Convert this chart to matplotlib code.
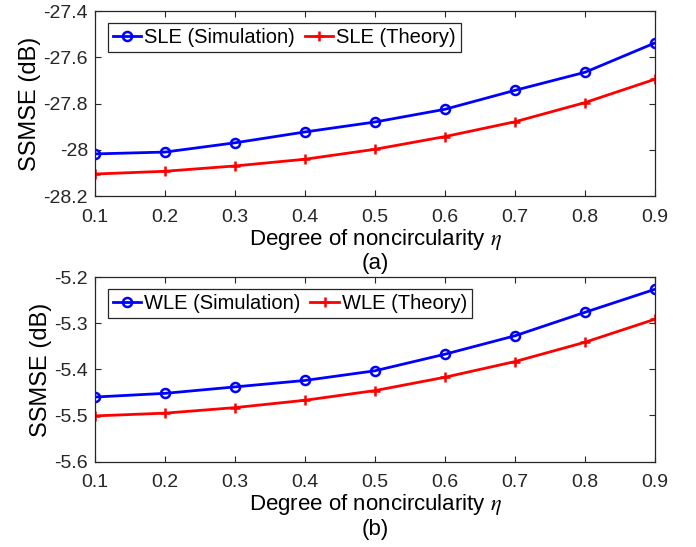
import matplotlib
matplotlib.use("Agg")
import matplotlib.pyplot as plt

plt.rcParams['font.family'] = ['Liberation Sans', 'DejaVu Sans']
plt.rcParams['mathtext.fontset'] = 'stix'
plt.rcParams['axes.unicode_minus'] = False

eta = [0.1, 0.2, 0.3, 0.4, 0.5, 0.6, 0.7, 0.8, 0.9]
eta_ticks = [0.1, 0.2, 0.3, 0.4, 0.5, 0.6, 0.7, 0.8, 0.9]
eta_ticklabels = ['0.1', '0.2', '0.3', '0.4', '0.5', '0.6', '0.7', '0.8', '0.9']

sle_sim = [-28.018, -28.010, -27.970, -27.923, -27.880, -27.825, -27.743, -27.665, -27.538]
sle_theory = [-28.105, -28.093, -28.070, -28.041, -27.998, -27.943, -27.879, -27.796, -27.695]
sle_yticks = [-28.2, -28.0, -27.8, -27.6, -27.4]
sle_yticklabels = ['-28.2', '-28', '-27.8', '-27.6', '-27.4']

wle_sim = [-5.460, -5.452, -5.438, -5.424, -5.403, -5.367, -5.327, -5.276, -5.226]
wle_theory = [-5.501, -5.495, -5.483, -5.467, -5.446, -5.417, -5.383, -5.341, -5.291]
wle_yticks = [-5.6, -5.5, -5.4, -5.3, -5.2]
wle_yticklabels = ['-5.6', '-5.5', '-5.4', '-5.3', '-5.2']

W, H = 696, 547
fig = plt.figure(figsize=(W / 100, H / 100), dpi=100)

def px_axes(left, top, right, bottom):
    return fig.add_axes([left / W, 1 - bottom / H, (right - left) / W, (bottom - top) / H])

ax1 = px_axes(95, 11, 655, 196)
ax2 = px_axes(95, 277.3, 655, 461.5)

panels = [
    (ax1, sle_sim, sle_theory, 'SLE', sle_yticks, sle_yticklabels, '(a)', 264),
    (ax2, wle_sim, wle_theory, 'WLE', wle_yticks, wle_yticklabels, '(b)', 529.5),
]

edge = '#262626'
for ax, sim, theo, name, yt, ytl, tag, tag_y in panels:
    ax.plot(eta, sim, '-o', color='blue', lw=2.0, ms=6.5, mfc='none', mew=1.8,
            label=f'{name} (Simulation)')
    ax.plot(eta, theo, '-+', color='red', lw=2.0, ms=7, mew=1.8,
            label=f'{name} (Theory)')
    ax.set_xlim(0.1, 0.9)
    ax.set_ylim(yt[0], yt[-1])
    ax.set_xticks(eta_ticks)
    ax.set_xticklabels(eta_ticklabels)
    ax.set_yticks(yt)
    ax.set_yticklabels(ytl)
    ax.tick_params(direction='in', length=4, width=0.8, colors=edge,
                   labelsize=14, top=True, right=True)
    ax.tick_params(axis='x', pad=9)
    ax.tick_params(axis='y', pad=5)
    for sp in ax.spines.values():
        sp.set_color(edge)
        sp.set_linewidth(0.9)
    ax.set_ylabel('SSMSE (dB)', fontsize=17, color='black', labelpad=2)
    ax.set_xlabel(r'Degree of noncircularity $\eta$', fontsize=16, color='black', labelpad=1)
    leg = ax.legend(loc='upper left', bbox_to_anchor=(0.0227, 0.935), borderaxespad=0,
                    ncol=2, fontsize=14.5, handlelength=1.4, handletextpad=0.15,
                    columnspacing=0.5, borderpad=0.25, fancybox=False, framealpha=1)
    leg.get_frame().set_edgecolor(edge)
    leg.get_frame().set_linewidth(0.9)
    fig.text(375 / W, 1 - tag_y / H, tag, ha='center', va='center', fontsize=16)

fig.savefig('out.png', dpi=100)
